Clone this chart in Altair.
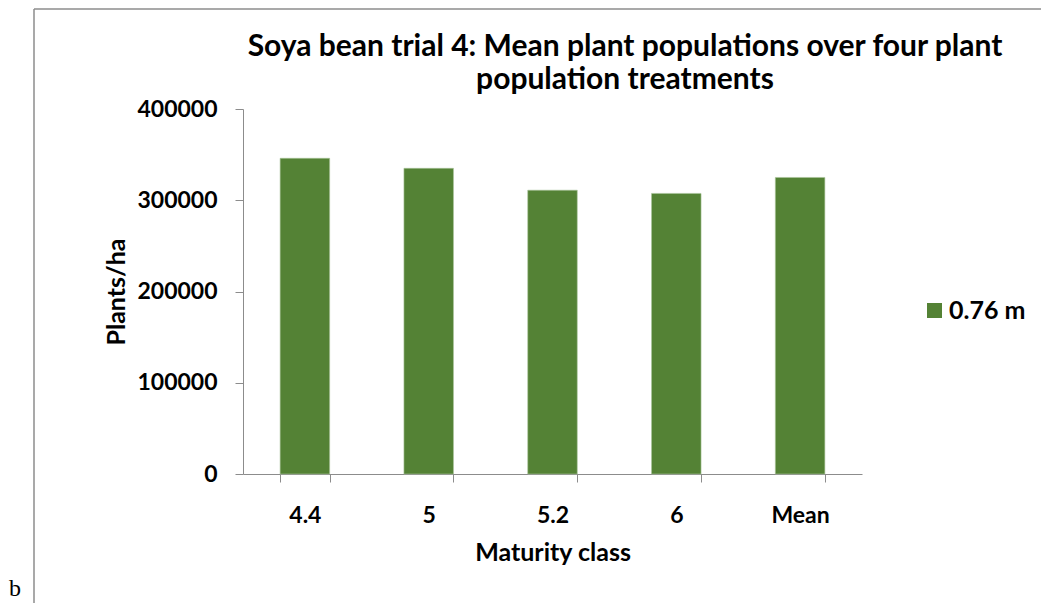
import altair as alt
import pandas as pd

categories = ["4.4", "5", "5.2", "6", "Mean"]
values = [346000, 335000, 311000, 307500, 325000]
series = ["0.76 m"] * 5
y_ticks = [0, 100000, 200000, 300000, 400000]
title_lines = ["Soya bean trial 4: Mean plant populations over four plant",
               "population treatments"]

df = pd.DataFrame({"cls": categories, "plants": values, "series": series})

FONT = "Lato"
GREEN = "#548235"
GRAY = "#8c8c8c"

bars = alt.Chart(df).mark_bar(color=GREEN, stroke="#a9c49a", strokeWidth=0.6).encode(
    x=alt.X("cls:N", sort=categories,
            scale=alt.Scale(paddingInner=0.6, paddingOuter=0.3),
            axis=alt.Axis(title="Maturity class", labelAngle=0, tickBand="extent",
                          domainColor=GRAY, tickColor=GRAY, tickSize=8,
                          labelFont=FONT, labelFontSize=23, labelFontWeight="bold",
                          labelColor="black", labelPadding=22,
                          titleFont=FONT, titleFontSize=25, titleFontWeight="bold",
                          titleColor="black", titlePadding=13)),
    y=alt.Y("plants:Q", scale=alt.Scale(domain=[0, 400000]),
            axis=alt.Axis(title="Plants/ha", values=y_ticks, format="d", grid=False,
                          domainColor=GRAY, tickColor=GRAY, tickSize=8,
                          labelFont=FONT, labelFontSize=23, labelFontWeight="bold",
                          labelColor="black", labelPadding=18,
                          titleFont=FONT, titleFontSize=25, titleFontWeight="bold",
                          titleColor="black", titlePadding=7)),
    color=alt.Color("series:N", scale=alt.Scale(range=[GREEN]),
                    legend=alt.Legend(title=None, orient="none", legendX=679, legendY=189,
                                      symbolType="square", symbolSize=225,
                                      symbolStrokeWidth=0, labelFont=FONT,
                                      labelFontSize=25, labelFontWeight="bold",
                                      labelColor="black", padding=0, labelOffset=2)),
)

one = pd.DataFrame({"k": [0]})
title1 = alt.Chart(one).mark_text(text=title_lines[0], font=FONT, fontSize=30,
                                  fontWeight="bold", color="black", align="center",
                                  baseline="alphabetic").encode(
    x=alt.value(382), y=alt.value(-53))
title2 = alt.Chart(one).mark_text(text=title_lines[1], font=FONT, fontSize=30,
                                  fontWeight="bold", color="black", align="center",
                                  baseline="alphabetic").encode(
    x=alt.value(382), y=alt.value(-20))
top_border = alt.Chart(one).mark_rule(color=GRAY, strokeWidth=1.5).encode(
    x=alt.value(-209), x2=alt.value(820), y=alt.value(-100))
left_border = alt.Chart(one).mark_rule(color=GRAY, strokeWidth=1.5).encode(
    x=alt.value(-209), y=alt.value(-100), y2=alt.value(520))
letter_b = alt.Chart(one).mark_text(text="b", font="Liberation Serif", fontSize=24,
                                    align="left", baseline="alphabetic", color="black").encode(
    x=alt.value(-234), y=alt.value(487))

chart = alt.layer(bars, title1, title2, top_border, left_border, letter_b).properties(
    width=619, height=365,
    autosize=alt.AutoSizeParams(type="none"),
    padding={"left": 235, "top": 101, "right": 179, "bottom": 129},
).configure_view(stroke=None)

chart.save("out.html", embed_options={"renderer": "svg", "actions": False})
